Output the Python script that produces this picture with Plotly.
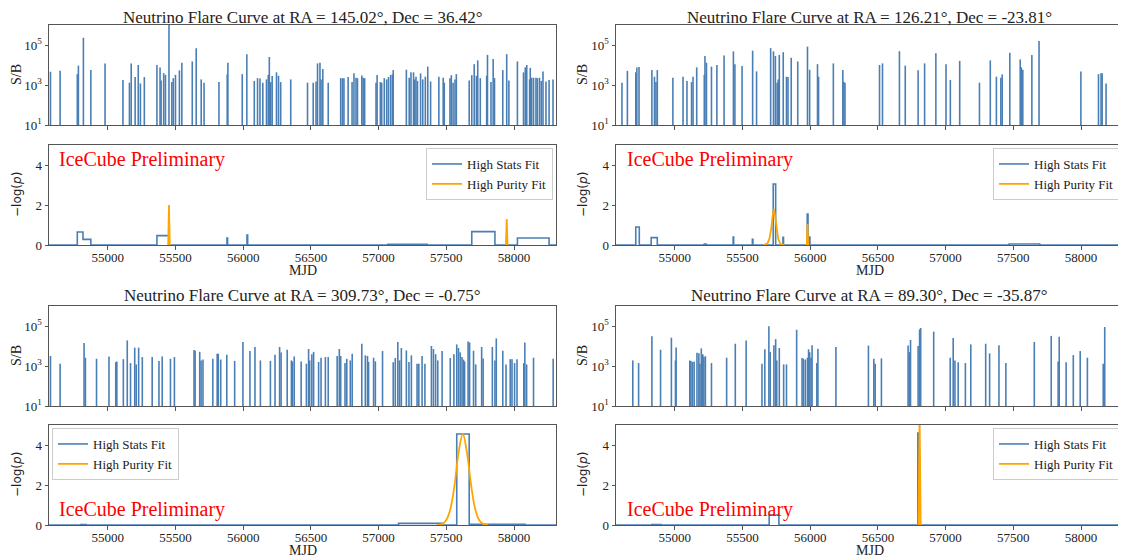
import plotly.graph_objects as go

# ---------------- data ----------------
TITLES = [
    "Neutrino Flare Curve at RA = 145.02°, Dec = 36.42°",
    "Neutrino Flare Curve at RA = 126.21°, Dec = -23.81°",
    "Neutrino Flare Curve at RA = 309.73°, Dec = -0.75°",
    "Neutrino Flare Curve at RA = 89.30°, Dec = -35.87°",
]
XTICKS = [55000, 55500, 56000, 56500, 57000, 57500, 58000]
XTICKTEXT = ["55000", "55500", "56000", "56500", "57000", "57500", "58000"]
SB_TICKS = [10, 1000, 100000]
SB_TICKTEXT = ["10<sup>1</sup>", "10<sup>3</sup>", "10<sup>5</sup>"]
P_TICKS = [0, 2, 4]
LEGEND_NAMES = ["High Stats Fit", "High Purity Fit"]
WATERMARK = "IceCube Preliminary"

# Panel 1 (RA 145.02, Dec 36.42): event times and S/B
p1_mjd = [54577, 54648, 54775, 54783, 54820, 54875, 54980, 55112, 55160, 55173,
          55202, 55225, 55241, 55270, 55363, 55386, 55394, 55413, 55426, 55452,
          55473, 55484, 55500, 55529, 55547, 55624, 55653, 55690, 55711, 55821,
          55882, 55887, 55993, 56027, 56082, 56106, 56124, 56145, 56172, 56185,
          56193, 56203, 56214, 56246, 56261, 56277, 56351, 56475, 56517, 56538,
          56549, 56567, 56575, 56588, 56628, 56720, 56733, 56744, 56775, 56804,
          56818, 56833, 56844, 56876, 56886, 56897, 56981, 56989, 57013, 57023,
          57042, 57060, 57073, 57089, 57102, 57108, 57205, 57226, 57239, 57258,
          57266, 57276, 57287, 57310, 57326, 57345, 57363, 57384, 57445, 57477,
          57485, 57527, 57537, 57550, 57564, 57574, 57669, 57688, 57706, 57722,
          57732, 57751, 57798, 57804, 57830, 57846, 57856, 57917, 57946, 57962,
          58025, 58070, 58083, 58094, 58115, 58120, 58130, 58144, 58162, 58172,
          58188, 58201, 58214, 58236, 58259, 58288]
p1_sb = [4600, 5100, 3500, 9300, 2.3e5, 5600, 1.2e4, 1800, 1300, 1.2e4,
         2500, 1e4, 1200, 2500, 1e4, 7600, 1700, 3900, 3200, 1.2e6,
         1400, 2200, 3200, 5400, 1.3e4, 1.5e4, 6.8e4, 1900, 1300, 1400,
         3400, 1.3e4, 3500, 3.4e4, 1600, 2200, 2100, 1300, 1900, 3200,
         2.5e4, 1400, 2800, 4300, 2900, 1400, 1900, 1300, 1300, 1500,
         1.2e4, 1.3e4, 1900, 6300, 1300, 2200, 2200, 2200, 2500, 1400,
         3900, 2300, 2200, 3000, 2300, 2200, 1300, 3200, 1400, 1300,
         2200, 1900, 2500, 3200, 3400, 5600, 5800, 2300, 4300, 4300,
         1900, 2600, 1600, 3800, 1900, 2600, 8300, 1500, 2600, 2300,
         1300, 2200, 3100, 1300, 1900, 3500, 1700, 3100, 1.1e4, 2900,
         1.7e4, 2200, 2900, 3.2e4, 1400, 2e4, 2200, 5600, 3.5e4, 1700,
         1.5e4, 4300, 7600, 1e4, 1900, 7200, 2300, 2300, 2300, 2200,
         2300, 1600, 4800, 1500, 1800, 1900]
p1_hs_x = [54566, 54775, 54817, 54875, 55363, 55452, 55880, 55885, 56028, 56033,
           57068, 57358, 57688, 57859, 58025, 58259, 58310]
p1_hs_y = [0, 0.65, 0.28, 0, 0.47, 0, 0.35, 0, 0.5, 0,
           0.03, 0, 0.67, 0, 0.35, 0, 0]
p1_hp_x = [55446, 55452, 55458, None, 57940, 57946, 57952]
p1_hp_y = [0, 2.0, 0, None, 0, 1.3, 0]

# Panel 2 (RA 126.21, Dec -23.81)
p2_mjd = [54610, 54650, 54712, 54720, 54736, 54831, 54850, 54861, 54871, 54986,
          55061, 55090, 55124, 55135, 55162, 55218, 55223, 55234, 55271, 55311,
          55364, 55433, 55444, 55497, 55575, 55604, 55708, 55729, 55743, 55756,
          55764, 55772, 55801, 55825, 55836, 55860, 55908, 55980, 55996, 56054,
          56062, 56171, 56241, 56249, 56257, 56512, 56534, 56659, 56702, 56797,
          56845, 56928, 57003, 57035, 57104, 57250, 57330, 57375, 57408, 57418,
          57474, 57551, 57559, 57570, 57637, 57690, 57999, 58129, 58148, 58156,
          58185, 58297]
p2_sb = [1300, 5100, 4300, 7600, 7900, 5600, 2600, 1400, 5600, 2300,
         2600, 1600, 1400, 2600, 7600, 3200, 2.8e4, 1.3e4, 8300, 1e4,
         3e4, 4.8e4, 1.1e4, 8900, 5.2e4, 4800, 7e4, 4.8e4, 2.8e4, 1300,
         1900, 3.2e4, 4.4e4, 2600, 2500, 2.3e4, 1.5e4, 8.3e4, 5800, 1.1e4,
         2600, 1.2e4, 5600, 1400, 1300, 1e4, 1.2e4, 4.9e4, 9300, 5400,
         1.2e4, 3.9e4, 1.1e4, 1800, 1.6e4, 1300, 1.7e4, 2600, 2300, 3400,
         4.1e4, 1.9e4, 7600, 5800, 3.2e4, 1.6e5, 4800, 3500, 3900, 3900,
         1200, 1.05e4]
p2_hs_x = [54566, 54712, 54738, 54826, 54871, 55218, 55231, 55431, 55435, 55573,
           55577, 55727, 55745, 55799, 55803, 55978, 55984, 55994, 55998, 57469,
           57695, 58310]
p2_hs_y = [0, 0.9, 0, 0.37, 0, 0.05, 0, 0.4, 0, 0.28,
           0, 3.05, 0, 0.38, 0, 1.55, 0, 0.4, 0, 0.05,
           0, 0]
p2_hp_x = [55655, 55685, 55700, 55712, 55722, 55732, 55742, 55752, 55764, 55780,
           55810, None, 55975, 55980, 55985]
p2_hp_y = [0, 0.08, 0.35, 0.8, 1.4, 1.8, 1.4, 0.8, 0.3, 0.06,
           0, None, 0, 1.05, 0]

# Panel 3 (RA 309.73, Dec -0.75)
p3_mjd = [54577, 54648, 54825, 54835, 54917, 55009, 55059, 55067, 55115, 55144,
          55168, 55199, 55210, 55228, 55255, 55328, 55378, 55402, 55463, 55492,
          55637, 55645, 55679, 55689, 55703, 55776, 55808, 55816, 55834, 55879,
          55937, 55998, 56050, 56087, 56127, 56201, 56235, 56269, 56280, 56325,
          56356, 56364, 56377, 56428, 56467, 56483, 56491, 56507, 56520, 56557,
          56575, 56607, 56628, 56694, 56710, 56720, 56752, 56765, 56791, 56805,
          56876, 56902, 56918, 56926, 56963, 56976, 57029, 57108, 57123, 57142,
          57155, 57168, 57205, 57224, 57242, 57284, 57297, 57321, 57342, 57390,
          57405, 57421, 57437, 57469, 57529, 57556, 57577, 57590, 57603, 57616,
          57627, 57635, 57661, 57672, 57701, 57717, 57761, 57772, 57840, 57859,
          57869, 57917, 57941, 57972, 57985, 58004, 58022, 58072, 58080, 58093,
          58144, 58289]
p3_sb = [3200, 1300, 1.4e4, 2600, 2300, 3000, 1550, 1700, 2200, 1.9e4,
         1400, 8300, 1200, 8300, 2800, 2800, 1800, 3000, 2300, 2800,
         6300, 5800, 5100, 1900, 2100, 2300, 4100, 4100, 2100, 3600,
         1800, 1.6e4, 5600, 8900, 1900, 1800, 3600, 8900, 4800, 6500,
         1900, 1700, 3000, 1700, 1300, 7100, 1900, 3900, 5100, 1600,
         2600, 2800, 2800, 3200, 7100, 3200, 1400, 2300, 1900, 4100,
         1.3e4, 3400, 3200, 1600, 2600, 1700, 5600, 1550, 2500, 1.6e4,
         1900, 7900, 6000, 1600, 3400, 1300, 1300, 3200, 1300, 1e4,
         7100, 3900, 1900, 5600, 2500, 3900, 1.2e4, 7900, 4800, 2800,
         2100, 1700, 1.7e4, 1.5e4, 5800, 1200, 8900, 2400, 8900, 1900,
         2.4e4, 5800, 1200, 2200, 2200, 1400, 2200, 1400, 1.5e4, 1200,
         2600, 2300]
p3_hs_x = [54566, 54800, 54840, 57147, 57469, 57577, 57669, 58083, 58310]
p3_hs_y = [0, 0.02, 0, 0.08, 0, 4.55, 0.03, 0, 0]
p3_hp_x = [57430, 57470, 57500, 57530, 57560, 57590, 57622, 57655, 57685, 57715,
           57745, 57775, 57810]
p3_hp_y = [0, 0.05, 0.25, 0.8, 1.95, 3.6, 4.55, 3.5, 1.9, 0.75,
           0.22, 0.04, 0]

# Panel 4 (RA 89.30, Dec -35.87)
p4_mjd = [54690, 54733, 54831, 54895, 54975, 55005, 55010, 55111, 55119, 55130,
          55143, 55164, 55178, 55186, 55196, 55207, 55215, 55226, 55271, 55383,
          55447, 55527, 55644, 55665, 55695, 55705, 55732, 55745, 55753, 55772,
          55804, 55825, 55900, 55940, 55950, 55964, 55980, 55988, 55996, 56006,
          56014, 56049, 56057, 56190, 56430, 56470, 56480, 56526, 56723, 56733,
          56741, 56797, 56808, 56816, 56912, 57034, 57056, 57069, 57093, 57146,
          57186, 57296, 57325, 57394, 57445, 57655, 57780, 57831, 57839, 57890,
          57943, 57994, 58047, 58164, 58175]
p4_sb = [1900, 1400, 3.1e4, 6500, 2.6e4, 1900, 8500, 1900, 1800, 1600,
         1700, 4600, 4300, 1300, 7600, 3900, 2900, 3100, 1400, 2600,
         1.3e4, 1.9e4, 1300, 6800, 9.6e4, 5100, 1.1e4, 2.2e4, 1900, 7900,
         1200, 1200, 6.5e4, 2500, 2300, 2100, 2600, 6800, 4900, 2600,
         1.1e4, 1400, 7200, 8900, 1.05e4, 2300, 1300, 2400, 1.05e4, 4900,
         2e4, 1e4, 6.8e4, 7.9e4, 5.2e4, 2600, 2.5e4, 1900, 1550, 1400,
         1.2e4, 1.3e4, 4300, 1.1e4, 1400, 1.6e4, 3.2e4, 1700, 2.9e4, 1550,
         3500, 5600, 2600, 1300, 8.9e4]
p4_hs_x = [54566, 54831, 54898, 55697, 55769, 56795, 56800, 58310]
p4_hs_y = [0, 0.02, 0, 0.5, 0, 4.6, 0, 0]
p4_hp_x = [56800, 56808, 56816]
p4_hp_y = [0, 5.6, 0]

# ---------------- styling ----------------
XRANGE = [54566, 58310]
SERIF = "Liberation Serif"
BLUE = "#4a7fb5"
ORANGE = "#ffa500"
FRAME = "#555555"
TXT = "#222222"

# The page body has an 8px default margin; the figure is sized to fill the
# rest of the 1126x560 window and positions are given in window pixels.
OFF = 8
FW, FH = 1126 - OFF, 560 - OFF


def px(xp):
    return (xp - OFF) / FW


def py(yp):
    return 1 - (yp - OFF) / FH


COL_PX = [(49, 556), (616, 1123)]
ROW_PX = [((25, 125), (145, 245)), ((306, 406), (425, 525))]
COL_DOM = [[px(a), px(b)] for a, b in COL_PX]
ROW_DOM = [([py(t[1]), py(t[0])], [py(b[1]), py(b[0])]) for t, b in ROW_PX]

panels = [
    (p1_mjd, p1_sb, p1_hs_x, p1_hs_y, p1_hp_x, p1_hp_y),
    (p2_mjd, p2_sb, p2_hs_x, p2_hs_y, p2_hp_x, p2_hp_y),
    (p3_mjd, p3_sb, p3_hs_x, p3_hs_y, p3_hp_x, p3_hp_y),
    (p4_mjd, p4_sb, p4_hs_x, p4_hs_y, p4_hp_x, p4_hp_y),
]
legend_ids = ["legend", "legend2", "legend3", "legend4"]

fig = go.Figure()
layout = dict(
    width=FW, height=FH,
    margin=dict(l=0, r=0, t=0, b=0, pad=0, autoexpand=False),
    paper_bgcolor="white", plot_bgcolor="white",
    font=dict(family=SERIF, size=13, color=TXT),
    showlegend=True,
)
annotations = []

for i, (mjd, sb, hsx, hsy, hpx, hpy) in enumerate(panels):
    col, row = i % 2, i // 2
    ti, bi = 2 * i + 1, 2 * i + 2
    xt = "x" if ti == 1 else f"x{ti}"
    yt = "y" if ti == 1 else f"y{ti}"
    xb, yb = f"x{bi}", f"y{bi}"

    bx, by = [], []
    for t, v in zip(mjd, sb):
        bx += [t, t, None]
        by += [10, v, None]
    fig.add_trace(go.Scatter(x=bx, y=by, mode="lines", xaxis=xt, yaxis=yt,
                             line=dict(color=BLUE, width=1.6), showlegend=False,
                             hoverinfo="skip"))
    fig.add_trace(go.Scatter(x=hsx, y=hsy, mode="lines", xaxis=xb, yaxis=yb,
                             name=LEGEND_NAMES[0], legend=legend_ids[i],
                             line=dict(color=BLUE, width=1.6, shape="hv")))
    fig.add_trace(go.Scatter(x=hpx, y=hpy, mode="lines", xaxis=xb, yaxis=yb,
                             name=LEGEND_NAMES[1], legend=legend_ids[i],
                             line=dict(color=ORANGE, width=1.8,
                                       shape="spline" if i == 2 else "linear")))

    common_x = dict(domain=COL_DOM[col], range=XRANGE, tickvals=XTICKS,
                    ticktext=XTICKTEXT, automargin=False,
                    showline=True, mirror=True, linecolor=FRAME, linewidth=1,
                    ticks="outside", ticklen=3.5, tickcolor=FRAME,
                    showgrid=False, zeroline=False, ticklabelstandoff=-3,
                    tickfont=dict(family=SERIF, size=13, color=TXT))
    common_y = dict(showline=True, mirror=True, linecolor=FRAME, linewidth=1,
                    ticks="outside", ticklen=3.5, tickcolor=FRAME, automargin=False,
                    showgrid=False, zeroline=False,
                    tickfont=dict(family=SERIF, size=13, color=TXT))
    layout["xaxis" if ti == 1 else f"xaxis{ti}"] = dict(
        common_x, anchor=yt, showticklabels=False)
    layout["yaxis" if ti == 1 else f"yaxis{ti}"] = dict(
        common_y, anchor=xt, domain=ROW_DOM[row][0], type="log", range=[1, 6],
        tickvals=SB_TICKS, ticktext=SB_TICKTEXT)
    layout[f"xaxis{bi}"] = dict(common_x, anchor=yb)
    layout[f"yaxis{bi}"] = dict(
        common_y, anchor=xb, domain=ROW_DOM[row][1], range=[0, 5], tickvals=P_TICKS)

    xc = sum(COL_DOM[col]) / 2
    # titles
    annotations.append(dict(text=TITLES[i], x=xc, y=py(17.3 if row == 0 else 295.5),
                            xref="paper", yref="paper",
                            xanchor="center", yanchor="middle", showarrow=False,
                            font=dict(family=SERIF, size=17, color=TXT)))
    # x label
    annotations.append(dict(text="MJD", x=xc, y=py(270 if row == 0 else 550),
                            xref="paper", yref="paper",
                            xanchor="center", yanchor="middle", showarrow=False,
                            font=dict(family=SERIF, size=14, color=TXT)))
    # y labels
    xl = px(17 if col == 0 else 583)
    annotations.append(dict(text="S/B", x=xl, y=sum(ROW_DOM[row][0]) / 2,
                            xref="paper", yref="paper", textangle=-90,
                            xanchor="center", yanchor="middle", showarrow=False,
                            font=dict(family=SERIF, size=14, color=TXT)))
    annotations.append(dict(text="\u2212log(<i>p</i>)", x=xl, y=sum(ROW_DOM[row][1]) / 2,
                            xref="paper", yref="paper", textangle=-90,
                            xanchor="center", yanchor="middle", showarrow=False,
                            font=dict(family="DejaVu Sans", size=12, color=TXT)))
    # watermark
    annotations.append(dict(text=WATERMARK, x=px(57 if col == 0 else 625),
                            y=py(159 if row == 0 else 509),
                            xref="paper", yref="paper",
                            xanchor="left", yanchor="middle", showarrow=False,
                            font=dict(family=SERIF, size=20, color="red")))

    # legends
    if i == 2:
        lx, lxa = px(52), "left"
    else:
        lx, lxa = px(553 if col == 0 else 1120), "right"
    ly = py(148 if row == 0 else 428)
    layout[legend_ids[i]] = dict(x=lx, xanchor=lxa, y=ly, yanchor="top",
                                 bgcolor="rgba(255,255,255,0.85)", bordercolor="#cccccc",
                                 borderwidth=1, font=dict(family=SERIF, size=13, color=TXT),
                                 tracegroupgap=0, itemwidth=30)

layout["annotations"] = annotations
fig.update_layout(**layout)
fig.write_html("out.html")
